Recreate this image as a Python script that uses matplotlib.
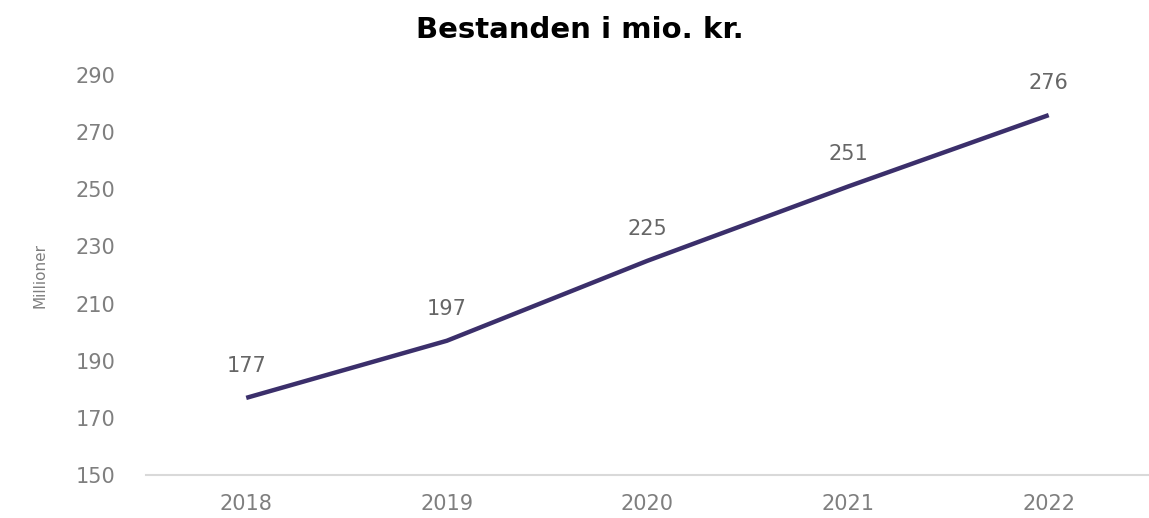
import matplotlib.pyplot as plt

# data
years = ['2018', '2019', '2020', '2021', '2022']
values = [177, 197, 225, 251, 276]
yticks = [150, 170, 190, 210, 230, 250, 270, 290]

fig = plt.figure(figsize=(11.49, 5.18), dpi=100)
ax = fig.add_axes([0.127, 0.083, 0.873, 0.772])

x = range(len(years))
ax.plot(x, values, color='#3b2f6b', linewidth=3.2, solid_capstyle='butt')

for i, v in zip(x, values):
    ax.annotate(str(v), (i, v), xytext=(0, 16), textcoords='offset points',
                ha='center', va='bottom', fontsize=15, color='#666666')

ax.set_xlim(-0.5, len(years) - 0.5)
ax.set_ylim(150, 290)
ax.set_xticks(list(x))
ax.set_xticklabels(years)
ax.set_yticks(yticks)

for s in ['top', 'right', 'left']:
    ax.spines[s].set_visible(False)
ax.spines['bottom'].set_color('#d9d9d9')
ax.spines['bottom'].set_linewidth(1.5)
ax.tick_params(axis='both', length=0, labelsize=15, labelcolor='#7f7f7f')
ax.tick_params(axis='x', pad=14)
ax.tick_params(axis='y', pad=22)

ax.set_ylabel('Millioner', fontsize=11, color='#7f7f7f', labelpad=20)
fig.text(0.505, 0.942, 'Bestanden i mio. kr.', fontsize=21, fontweight='bold',
         ha='center', va='center')

fig.savefig('out.png', dpi=100)
